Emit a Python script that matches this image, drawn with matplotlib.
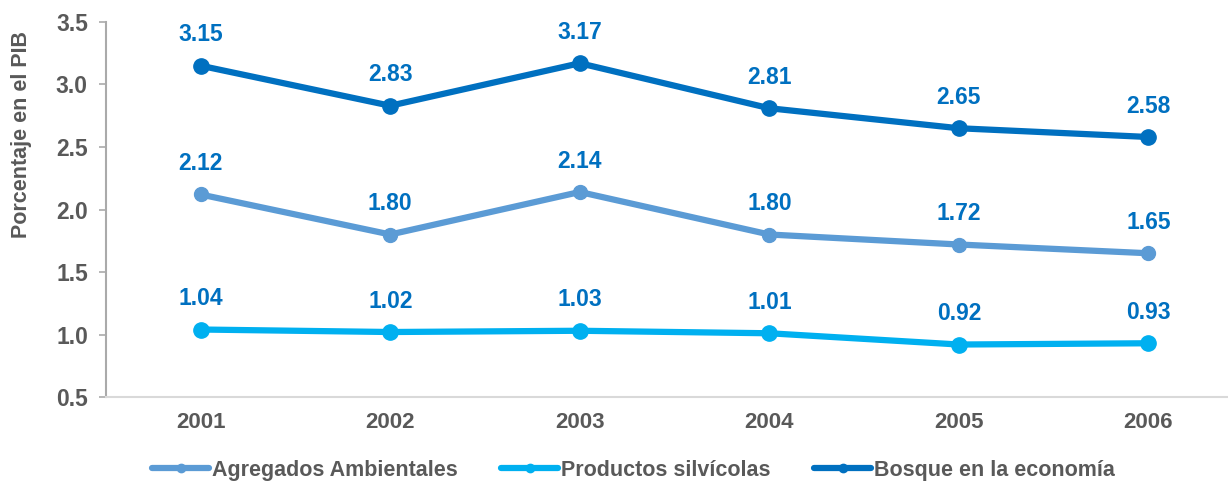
import matplotlib
matplotlib.use('Agg')
from matplotlib import pyplot as plt

years = ['2001', '2002', '2003', '2004', '2005', '2006']
agregados = [2.12, 1.80, 2.14, 1.80, 1.72, 1.65]
productos = [1.04, 1.02, 1.03, 1.01, 0.92, 0.93]
bosque = [3.15, 2.83, 3.17, 2.81, 2.65, 2.58]
yticks = [0.5, 1.0, 1.5, 2.0, 2.5, 3.0, 3.5]

plt.rcParams['font.family'] = ['Liberation Sans', 'DejaVu Sans']

fig = plt.figure(figsize=(12.28, 4.83), dpi=100)
ax = fig.add_axes([0.0863, 0.178, 0.9137, 0.7765])

x = range(len(years))
series = [
    (agregados, 'Agregados Ambientales', '#5B9BD5', 10),
    (productos, 'Productos silvícolas', '#00B0F0', 11),
    (bosque, 'Bosque en la economía', '#0070C0', 11),
]
for vals, name, col, ms in series:
    ax.plot(x, vals, color=col, lw=4.5, marker='o', ms=ms, label=name,
            solid_capstyle='round')
    for xi, v in zip(x, vals):
        ax.annotate('%.2f' % v, (xi, v), xytext=(0, 14), textcoords='offset points',
                    ha='center', va='bottom', color='#0070C0',
                    fontsize=16.5, fontweight='bold')

ax.set_xlim(-0.5, 5.42)
ax.set_ylim(0.5, 3.5)
ax.set_yticks(yticks)
ax.set_yticklabels(['%.1f' % t for t in yticks])
ax.set_xticks(list(x))
ax.set_xticklabels(years)
ax.tick_params(axis='y', colors='#aaaaaa', labelcolor='#595959', labelsize=16.5,
               length=5, width=1.2, pad=8)
ax.tick_params(axis='x', length=0, labelcolor='#595959', labelsize=16, pad=11)
for lab in ax.get_xticklabels() + ax.get_yticklabels():
    lab.set_fontweight('bold')
ax.set_ylabel('Porcentaje en el PIB', color='#595959', fontsize=15.5,
              fontweight='bold')
ax.yaxis.set_label_coords(-0.066, 0.70)

for s in ['top', 'right']:
    ax.spines[s].set_visible(False)
ax.spines['left'].set_color('#aaaaaa')
ax.spines['left'].set_linewidth(1.5)
ax.spines['bottom'].set_color('#d9d9d9')
ax.spines['bottom'].set_linewidth(1.5)

leg = fig.legend(loc='lower center', bbox_to_anchor=(0.516, -0.035), ncol=3,
                 frameon=False, handlelength=2.65, columnspacing=2.0,
                 handletextpad=0.15,
                 prop={'size': 15.5, 'weight': 'bold'})
for h in leg.legend_handles:
    h.set_markersize(6)
for t in leg.get_texts():
    t.set_color('#595959')

fig.savefig('out.png', dpi=100)
